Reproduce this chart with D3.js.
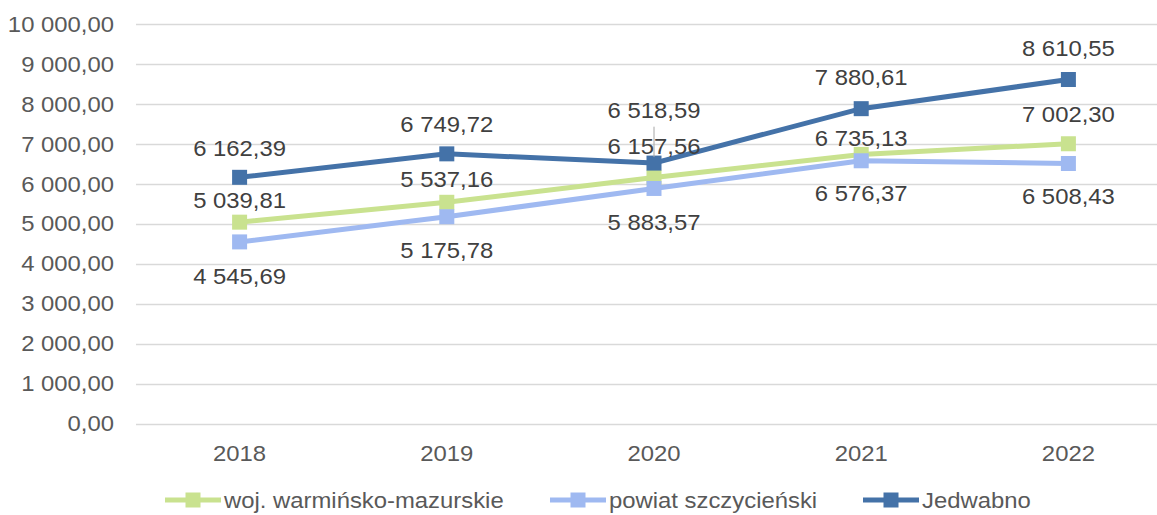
<!DOCTYPE html>
<html>
<head>
<meta charset="utf-8">
<script src="https://cdn.jsdelivr.net/npm/d3@7/dist/d3.min.js"></script>
<style>
  html, body { margin: 0; padding: 0; background: #fff; }
  svg { display: block; font-family: "Liberation Sans", Arial, sans-serif; }
</style>
</head>
<body>
<svg id="chart" width="1157" height="515"></svg>
<script>
// ---- data ----
const years = ["2018", "2019", "2020", "2021", "2022"];
const wojValues = [5039.81, 5537.16, 6157.56, 6735.13, 7002.30];
const powiatValues = [4545.69, 5175.78, 5883.57, 6576.37, 6508.43];
const jedwabnoValues = [6162.39, 6749.72, 6518.59, 7880.61, 8610.55];
const seriesNames = ["woj. warmińsko-mazurskie", "powiat szczycieński", "Jedwabno"];
const yTicks = [0, 1000, 2000, 3000, 4000, 5000, 6000, 7000, 8000, 9000, 10000];

// ---- styles / label placement (not data) ----
const colors = ["#C9E28F", "#9FB9F1", "#4472A8"];
const labelOffsets = [
  [-22, -22.5, -31, -16.5, -29.7],
  [34, 34, 34, 33, 33],
  [-29.5, -29.5, -52.4, -31, -31.5]
];
const SX = 1.11;      // horizontal stretch of text in the reference
const FS = 21.5;

const series = [wojValues, powiatValues, jedwabnoValues].map((vals, i) => ({
  name: seriesNames[i], color: colors[i], offsets: labelOffsets[i],
  points: vals.map((v, j) => ({ year: years[j], value: v, idx: j }))
}));

const pl = d3.formatLocale({ decimal: ",", thousands: " ", grouping: [3], currency: ["", " zł"] });
const fmt = pl.format(",.2f");

const svg = d3.select("#chart");
const x = d3.scaleBand().domain(years).range([136, 1172]).padding(0);
const cx = d => x(d) + x.bandwidth() / 2;
const y = d3.scaleLinear().domain([0, 10000]).range([423.5, 24]);

function stretchedText(g, tx, ty, txt, opts) {
  return g.append("text")
    .attr("transform", `translate(${tx},${ty}) scale(${SX},1)`)
    .attr("text-anchor", opts.anchor || "middle")
    .attr("font-size", opts.size || FS)
    .attr("fill", opts.fill || "#595959")
    .text(txt);
}

// gridlines
const grid = svg.append("g");
grid.selectAll("line").data(yTicks).join("line")
  .attr("x1", 136).attr("x2", 1157)
  .attr("y1", d => Math.round(y(d)) + 0.5).attr("y2", d => Math.round(y(d)) + 0.5)
  .attr("stroke", "#D9D9D9").attr("stroke-width", 1.3);

// y tick labels
const yl = svg.append("g");
yTicks.forEach(t => stretchedText(yl, 114, y(t) + 7.7, fmt(t), { anchor: "end" }));

// x labels
const xl = svg.append("g");
years.forEach(yr => stretchedText(xl, cx(yr), 461, yr, {}));

// lines
const line = d3.line().x(d => cx(d.year)).y(d => y(d.value));
const sg = svg.append("g");
series.forEach(s => {
  sg.append("path").datum(s.points)
    .attr("d", line).attr("fill", "none")
    .attr("stroke", s.color).attr("stroke-width", 5)
    .attr("stroke-linejoin", "round");
  sg.selectAll(null).data(s.points).join("rect")
    .attr("x", d => cx(d.year) - 7.5).attr("y", d => y(d.value) - 7.5)
    .attr("width", 15).attr("height", 15)
    .attr("fill", s.color);
});

// leader line for Jedwabno 2020
const jl = series[2].points[2];
svg.append("line")
  .attr("x1", cx(jl.year)).attr("x2", cx(jl.year))
  .attr("y1", y(jl.value) + series[2].offsets[2] + 16)
  .attr("y2", y(jl.value) - 6)
  .attr("stroke", "#A6A6A6").attr("stroke-width", 1);

// data labels
const lg = svg.append("g");
series.forEach(s => {
  s.points.forEach(p => {
    stretchedText(lg, cx(p.year), y(p.value) + s.offsets[p.idx] + 7.7, fmt(p.value), { fill: "#404040" });
  });
});

// legend
const leg = svg.append("g");
const legStarts = [165, 550, 863];
const legY = 500;
series.forEach((s, i) => {
  const x0 = legStarts[i];
  leg.append("line").attr("x1", x0).attr("x2", x0 + 56)
    .attr("y1", legY).attr("y2", legY)
    .attr("stroke", s.color).attr("stroke-width", 5);
  leg.append("rect").attr("x", x0 + 28 - 7.5).attr("y", legY - 7.5)
    .attr("width", 15).attr("height", 15).attr("fill", s.color);
  stretchedText(leg, x0 + 59, legY + 8, s.name, { anchor: "start" });
});
</script>
</body>
</html>
